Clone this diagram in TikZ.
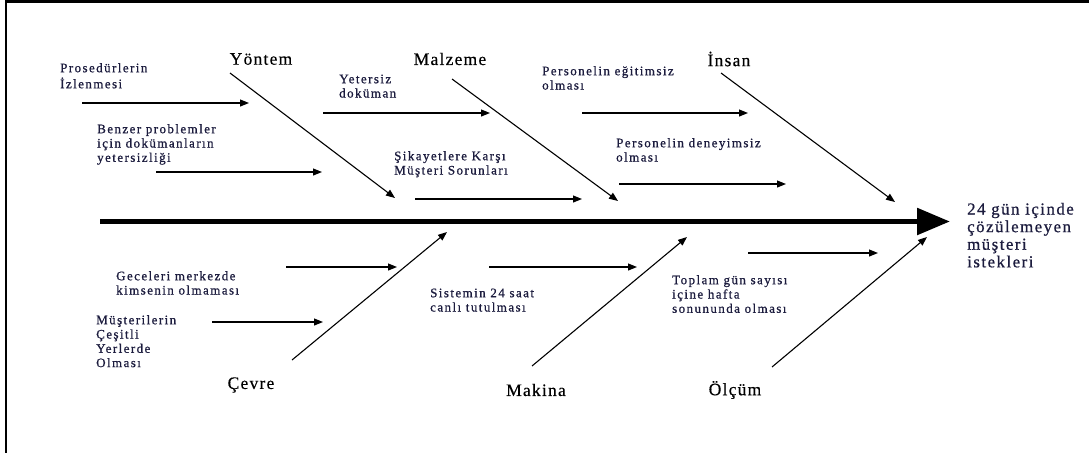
\documentclass[tikz,border=0pt]{standalone}
\usepackage{fontspec}
\setmainfont{Liberation Serif}
\newfontfamily\causefont[LetterSpace=11,FakeBold=0.8]{Liberation Serif}
\newfontfamily\effectfont[LetterSpace=9,FakeBold=0.8]{Liberation Serif}
\newfontfamily\catfont[LetterSpace=7,FakeBold=0.4]{Liberation Serif}
\usetikzlibrary{arrows.meta}
\definecolor{ink}{RGB}{28,28,62}
\begin{document}
\begin{tikzpicture}[x=1pt,y=-1pt,
  cause/.style={anchor=north west, inner sep=0pt, align=left, text=ink,
    font=\causefont\fontsize{13}{14.3}\selectfont},
  category/.style={inner sep=0pt, text=black,
    font=\catfont\fontsize{17.5}{20}\selectfont},
  effect/.style={anchor=north west, inner sep=0pt, align=left, text=ink,
    font=\effectfont\fontsize{16.8}{17.6}\selectfont},
  bone/.style={line width=1.1pt, -{Triangle[length=9pt,width=7pt]}},
  twig/.style={line width=1.1pt, -{Triangle[length=9pt,width=7pt]}},
  spine/.style={line width=5.5pt, -{Triangle[length=33pt,width=26pt]}}]
\useasboundingbox (0,0) rectangle (1089,453);

% frame edges
\draw[line width=2.6pt] (5,1.3) -- (1089,1.3);
\draw[line width=2.2pt] (6,0) -- (6,453);

% main spine
\coordinate (tail) at (100,221.5);
\coordinate (head) at (950,221.5);
\draw[spine] (tail) -- (head);
\node[effect] (effect) at (967,202)
  {\strut 24 gün içinde\\çözülemeyen\\müşteri\\istekleri};

% categories
\node[category] (yontem) at (261,59) {Yöntem};
\node[category] (malzeme) at (450,59) {Malzeme};
\node[category] (insan) at (729,59) {İnsan};
\node[category] (cevre) at (251,385) {Çevre};
\node[category] (makina) at (536,390) {Makina};
\node[category] (olcum) at (735,390) {Ölçüm};

% main bones
\coordinate (yontem-a) at (230,73);  \coordinate (yontem-b) at (395,198);
\coordinate (malzeme-a) at (452,79); \coordinate (malzeme-b) at (618,201);
\coordinate (insan-a) at (721,73);   \coordinate (insan-b) at (895,202);
\coordinate (cevre-a) at (292,360);  \coordinate (cevre-b) at (447,232);
\coordinate (makina-a) at (532,366); \coordinate (makina-b) at (687,237);
\coordinate (olcum-a) at (772,367);  \coordinate (olcum-b) at (927,237);
\foreach \b in {yontem,malzeme,insan,cevre,makina,olcum}
  \draw[bone] (\b-a) -- (\b-b);

% causes
\node[cause] (pros) at (60,62) {\strut Prosedürlerin\\İzlenmesi};
\node[cause] (yeter) at (339,73) {\strut Yetersiz\\doküman};
\node[cause] (egit) at (542,65) {\strut Personelin eğitimsiz\\olması};
\node[cause] (benzer) at (97,123) {\strut Benzer problemler\\için dokümanların\\yetersizliği};
\node[cause] (sikayet) at (394,150) {\strut Şikayetlere Karşı\\Müşteri Sorunları};
\node[cause] (deney) at (616,137) {\strut Personelin deneyimsiz\\olması};
\node[cause] (gece) at (116,270) {\strut Geceleri merkezde\\kimsenin olmaması};
\node[cause] (musteri) at (96,314) {\strut Müşterilerin\\Çeşitli\\Yerlerde\\Olması};
\node[cause] (sistem) at (430,287) {\strut Sistemin 24 saat\\canlı tutulması};
\node[cause] (toplam) at (672,274) {\strut Toplam gün sayısı\\içine hafta\\sonununda olması};

% cause arrows
\coordinate (pros-a) at (82,103);     \coordinate (pros-b) at (249,103);
\coordinate (yeter-a) at (323,113);   \coordinate (yeter-b) at (490,113);
\coordinate (egit-a) at (582,113);    \coordinate (egit-b) at (748,113);
\coordinate (benzer-a) at (156,172);  \coordinate (benzer-b) at (322,172);
\coordinate (sikayet-a) at (415,199); \coordinate (sikayet-b) at (582,199);
\coordinate (deney-a) at (619,184);   \coordinate (deney-b) at (786,184);
\coordinate (gece-a) at (286,267);    \coordinate (gece-b) at (397,267);
\coordinate (musteri-a) at (212,322); \coordinate (musteri-b) at (323,322);
\coordinate (sistem-a) at (489,267);  \coordinate (sistem-b) at (637,267);
\coordinate (toplam-a) at (748,253);  \coordinate (toplam-b) at (878,253);
\foreach \c in {pros,yeter,egit,benzer,sikayet,deney,gece,musteri,sistem,toplam}
  \draw[twig] (\c-a) -- (\c-b);
\end{tikzpicture}
\end{document}
